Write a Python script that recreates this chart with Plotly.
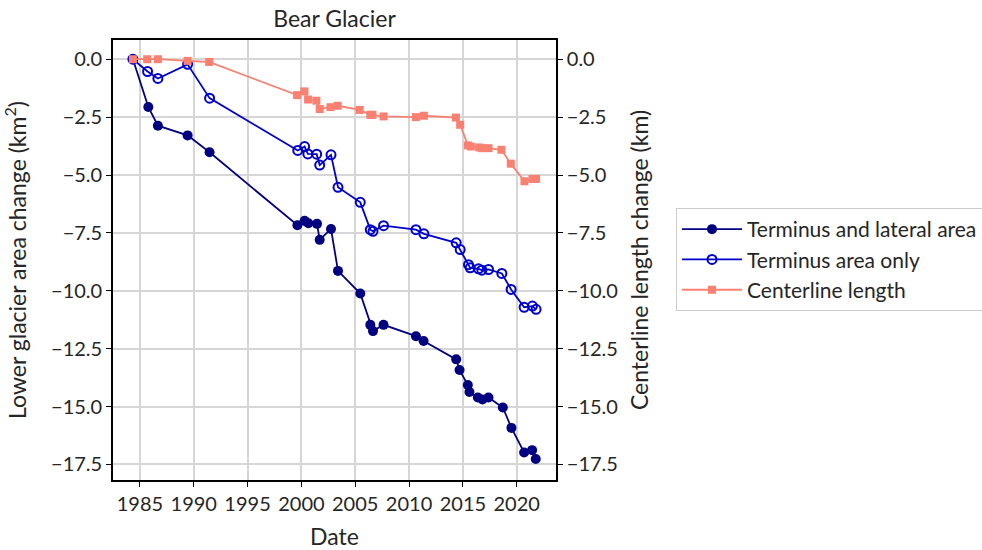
import plotly.graph_objects as go

# Survey dates (decimal years) and changes relative to 1984
years_lateral = [1984.35, 1985.78, 1986.67, 1989.43, 1991.47, 1999.63, 2000.30, 2000.65,
                 2001.45, 2001.70, 2002.75, 2003.40, 2005.47, 2006.40, 2006.65, 2007.63,
                 2010.64, 2011.35, 2014.38, 2014.69, 2015.46, 2015.61, 2016.39, 2016.82,
                 2017.38, 2018.71, 2019.51, 2020.69, 2021.43, 2021.77]
area_lateral = [0.0, -2.06, -2.87, -3.29, -4.02, -7.17, -6.98, -7.08,
                -7.11, -7.80, -7.33, -9.14, -10.12, -11.47, -11.74, -11.47,
                -11.96, -12.17, -12.96, -13.42, -14.07, -14.37, -14.61, -14.69,
                -14.61, -15.04, -15.92, -16.98, -16.88, -17.26]

years_terminus = [1984.35, 1985.71, 1986.67, 1989.43, 1991.47, 1999.66, 2000.30, 2000.60,
                  2001.42, 2001.70, 2002.75, 2003.40, 2005.47, 2006.40, 2006.65, 2007.63,
                  2010.64, 2011.38, 2014.38, 2014.75, 2015.52, 2015.68, 2016.45, 2016.76,
                  2017.38, 2018.62, 2019.48, 2020.69, 2021.46, 2021.80]
area_terminus = [0.0, -0.53, -0.83, -0.22, -1.68, -3.94, -3.77, -4.09,
                 -4.10, -4.57, -4.13, -5.53, -6.18, -7.36, -7.43, -7.19,
                 -7.36, -7.54, -7.93, -8.22, -8.87, -9.01, -9.05, -9.11,
                 -9.08, -9.25, -9.94, -10.71, -10.66, -10.80]

years_centerline = [1984.35, 1985.68, 1986.67, 1989.43, 1991.43, 1999.60, 2000.28, 2000.62,
                    2001.39, 2001.70, 2002.70, 2003.37, 2005.41, 2006.40, 2006.60, 2007.63,
                    2010.64, 2011.38, 2014.35, 2014.75, 2015.46, 2015.74, 2016.52, 2016.82,
                    2017.38, 2018.58, 2019.45, 2020.72, 2021.46, 2021.80]
length_centerline = [0.0, 0.0, 0.0, -0.07, -0.12, -1.55, -1.39, -1.74,
                     -1.79, -2.15, -2.07, -2.01, -2.19, -2.40, -2.40, -2.47,
                     -2.50, -2.44, -2.52, -2.83, -3.72, -3.77, -3.81, -3.84,
                     -3.84, -3.91, -4.51, -5.27, -5.17, -5.17]

x_ticks = [1985, 1990, 1995, 2000, 2005, 2010, 2015, 2020]
y_ticks = [0.0, -2.5, -5.0, -7.5, -10.0, -12.5, -15.0, -17.5]
x_range = [1982.5, 2023.65]
y_range = [-18.17, 0.83]

FONT = "Lato, 'Open Sans', sans-serif"
INK = "#262626"
GRID = "#d6d6d6"

fig = go.Figure()

fig.add_trace(go.Scatter(
    x=years_lateral, y=area_lateral, name="Terminus and lateral area",
    mode="lines+markers",
    line=dict(color="#000080", width=1.8),
    marker=dict(symbol="circle", size=10, color="#000080"),
))
fig.add_trace(go.Scatter(
    x=years_terminus, y=area_terminus, name="Terminus area only",
    mode="lines+markers",
    line=dict(color="#0000CD", width=1.8),
    marker=dict(symbol="circle-open", size=9, color="#0000CD", line=dict(width=2)),
))
fig.add_trace(go.Scatter(
    x=years_centerline, y=length_centerline, name="Centerline length",
    mode="lines+markers", yaxis="y2",
    line=dict(color="#FA8072", width=1.8),
    marker=dict(symbol="square", size=8, color="#FA8072"),
))

axis_common = dict(
    showline=True, linecolor="black", linewidth=1.6,
    ticks="outside", ticklen=5, tickwidth=1.4, tickcolor="black",
    tickfont=dict(family=FONT, size=20, color=INK),
    zeroline=False,
)

fig.update_layout(
    width=982, height=550,
    margin=dict(l=113, r=426, t=40, b=70, autoexpand=False),
    paper_bgcolor="white", plot_bgcolor="white",
    font=dict(family=FONT, color=INK),
    title=dict(text="Bear Glacier", x=0.5, xref="paper", xanchor="center",
               y=1 - 19 / 550, yref="container", yanchor="middle",
               font=dict(family=FONT, size=23, color=INK)),
    xaxis=dict(
        range=x_range, tickvals=x_ticks, mirror=True,
        showgrid=True, gridcolor=GRID, gridwidth=1.5,
        title=dict(text="Date", font=dict(family=FONT, size=23, color=INK), standoff=16),
        **axis_common,
    ),
    yaxis=dict(
        range=y_range, tickvals=y_ticks, tickformat=".1f",
        showgrid=True, gridcolor=GRID, gridwidth=1.5,
        title=dict(text="Lower glacier area change (km<sup>2</sup>)",
                   font=dict(family=FONT, size=23, color=INK), standoff=19),
        **axis_common,
    ),
    yaxis2=dict(
        range=y_range, tickvals=y_ticks, tickformat=".1f",
        overlaying="y", side="right", showgrid=False,
        title=dict(text="Centerline length change (km)",
                   font=dict(family=FONT, size=23, color=INK), standoff=15),
        **axis_common,
    ),
    legend=dict(
        x=(676 - 113) / 443, y=(480 - 208) / 440, xanchor="left", yanchor="top",
        bgcolor="white", bordercolor="#cccccc", borderwidth=1,
        font=dict(family=FONT, size=21, color=INK),
        itemwidth=60, tracegroupgap=2,
    ),
    showlegend=True,
)

fig.write_html("out.html")
